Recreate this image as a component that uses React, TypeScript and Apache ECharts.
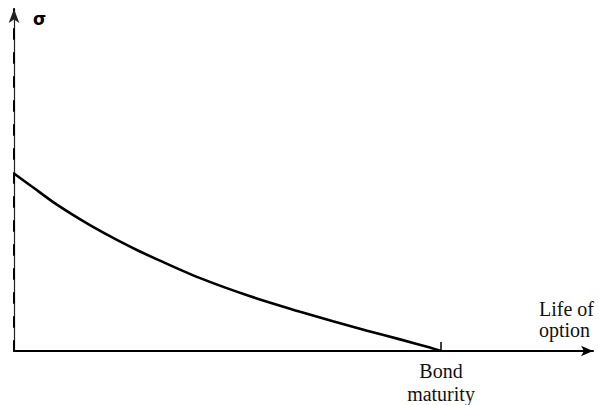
import React, { useEffect, useRef } from "react";
import * as echarts from "echarts";

// Curve: sigma vs life of option (unitless, bond maturity = 1)
const lifeValues = [0, 0.045, 0.091, 0.138, 0.185, 0.241, 0.295, 0.335, 0.436, 0.553, 0.67, 0.747, 0.827, 0.904, 0.974, 1];
const sigmaValues = [0.519, 0.478, 0.436, 0.398, 0.363, 0.325, 0.291, 0.268, 0.213, 0.16, 0.115, 0.087, 0.059, 0.034, 0.01, 0];
const maturityTickX = [1, 1];
const maturityTickY = [0, 0.026];
const maturityLabel = "Bond\nmaturity";
const xAxisTitle = "Life of\noption";
const yAxisTitle = "σ";

export default function App() {
  const ref = useRef<HTMLDivElement>(null);
  useEffect(() => {
    if (!ref.current) return;
    const chart = echarts.init(ref.current, null, { renderer: "svg" });
    const curve = lifeValues.map((x, i) => [x, sigmaValues[i]]);
    const tick = maturityTickX.map((x, i) => [x, maturityTickY[i]]);
    chart.setOption({
      animation: false,
      backgroundColor: "#ffffff",
      grid: { left: 14, top: 9, width: 579, height: 343 },
      xAxis: {
        type: "value",
        min: 0,
        max: 579 / 427,
        axisLine: {
          show: true,
          symbol: ["none", "arrow"],
          symbolSize: [8, 12],
          lineStyle: { color: "#000", width: 2 },
        },
        axisTick: { show: false },
        splitLine: { show: false },
        axisLabel: {
          customValues: [1],
          formatter: () => maturityLabel,
          fontFamily: "Liberation Serif",
          fontSize: 20,
          lineHeight: 23,
          color: "#111",
          margin: 8,
        },
      },
      yAxis: [
        {
          type: "value",
          min: 0,
          max: 1,
          axisLine: {
            show: true,
            symbol: ["none", "arrow"],
            symbolSize: [8, 14],
            lineStyle: { color: "#222", width: 1.2 },
          },
          axisTick: { show: false },
          splitLine: { show: false },
          axisLabel: { show: false },
        },
        {
          type: "value",
          min: 0,
          max: 1,
          position: "left",
          axisLine: {
            show: true,
            lineStyle: { color: "#000", width: 2, type: [10, 14] },
          },
          axisTick: { show: false },
          splitLine: { show: false },
          axisLabel: { show: false },
        },
      ],
      series: [
        {
          type: "line",
          data: curve,
          smooth: 0.3,
          showSymbol: false,
          lineStyle: { color: "#000", width: 2.6 },
        },
        {
          type: "line",
          data: tick,
          showSymbol: false,
          lineStyle: { color: "#000", width: 1.5 },
        },
      ],
      graphic: [
        {
          type: "text",
          left: 33,
          top: 10,
          style: {
            text: yAxisTitle,
            fontFamily: "DejaVu Sans",
            fontWeight: "bold",
            fontSize: 17,
            fill: "#000",
          },
        },
        {
          type: "text",
          left: 539,
          top: 298,
          style: {
            text: xAxisTitle,
            fontFamily: "Liberation Serif",
            fontSize: 20,
            lineHeight: 21,
            align: "center",
            fill: "#111",
          },
        },
      ],
    });
    return () => chart.dispose();
  }, []);
  return <div ref={ref} style={{ width: 599, height: 405, position: "fixed", left: 0, top: 0 }} />;
}
